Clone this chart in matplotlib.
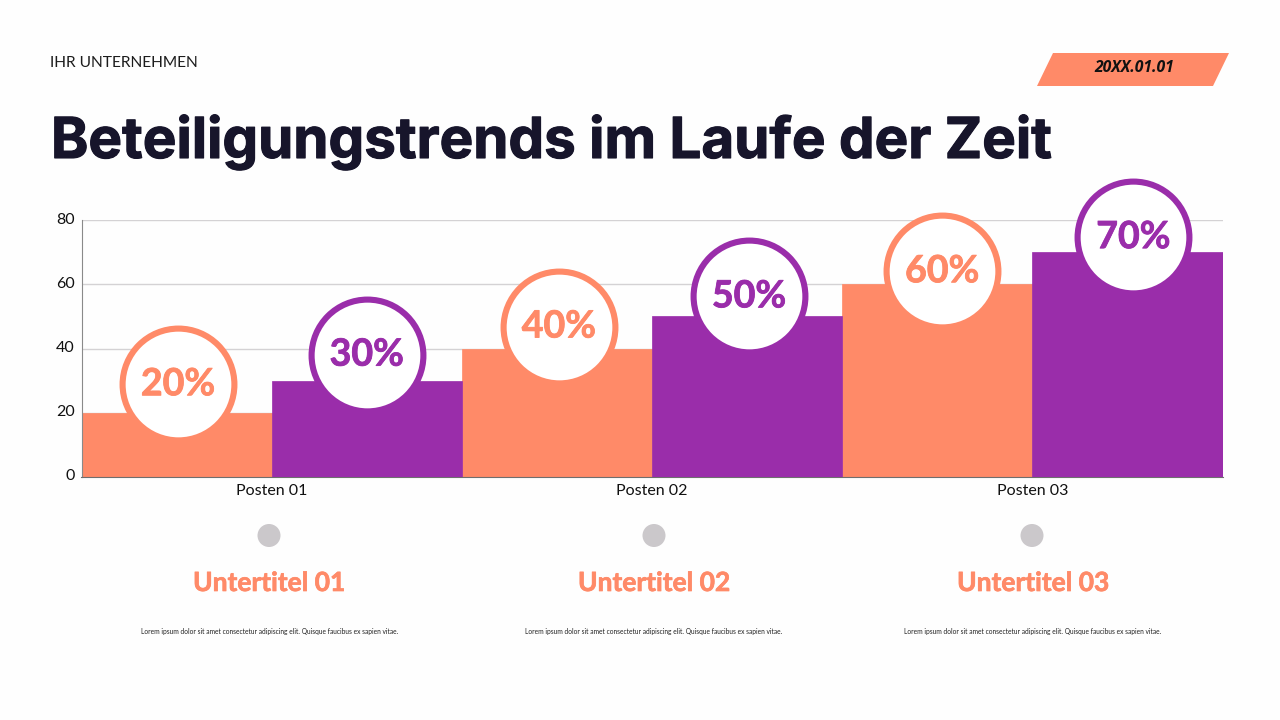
import matplotlib

matplotlib.use("Agg")
import matplotlib.pyplot as plt
import matplotlib.patheffects as pe
from matplotlib.patches import Polygon, Circle
from matplotlib.transforms import offset_copy, ScaledTranslation
import numpy as np

categories = ["Posten 01", "Posten 02", "Posten 03"]
series_a = [20, 40, 60]
series_b = [30, 50, 70]
y_ticks = [0, 20, 40, 60, 80]
subtitles = ["Untertitel 01", "Untertitel 02", "Untertitel 03"]
lorem = "Lorem ipsum dolor sit amet consectetur adipiscing elit. Quisque faucibus ex sapien vitae."

ORANGE = "#ff8a68"
PURPLE = "#9a2daa"
DARK = "#17152b"
W, H = 1280, 720

fig = plt.figure(figsize=(W / 100, H / 100), dpi=100, facecolor="#fefefe")

# full-figure overlay in pixel coordinates for the slide furniture
bg = fig.add_axes([0, 0, 1, 1])
bg.set_xlim(0, W)
bg.set_ylim(H, 0)
bg.axis("off")


def heavier(text, amount, color):
    text.set_path_effects([pe.withStroke(linewidth=amount, foreground=color)])


ax = fig.add_axes([81.5 / W, 1 - 477 / H, (1222.5 - 81.5) / W, (477 - 220) / H])
ax.set_facecolor("none")
x = np.arange(len(categories))
width = 0.5
ax.bar(x - width / 2, series_a, width, color=ORANGE, edgecolor=ORANGE, linewidth=0.5, zorder=2)
ax.bar(x + width / 2, series_b, width, color=PURPLE, edgecolor=PURPLE, linewidth=0.5, zorder=3)
ax.set_xlim(-0.5, 2.5)
ax.set_ylim(0, 80)
ax.set_yticks(y_ticks)
ax.set_xticks(x, categories)
ax.grid(axis="y", color="#d4d2d4", linewidth=1, zorder=0)
ax.tick_params(length=0, labelsize=11.5, labelcolor="#111111", pad=5)
for lab in ax.get_xticklabels() + ax.get_yticklabels():
    lab.set_family("Lato")
nudge = ScaledTranslation(0, 2 / 100, fig.dpi_scale_trans)
for lab in ax.get_yticklabels():
    lab.set_transform(lab.get_transform() + nudge)
for s in ["top", "right"]:
    ax.spines[s].set_visible(False)
ax.spines["left"].set_color("#8a8a8a")
ax.spines["bottom"].set_color("#6e6e6e")

# percent badges, shifted off the bar tops by a pixel amount
positions = [x[0] - width / 2, x[0] + width / 2, x[1] - width / 2,
             x[1] + width / 2, x[2] - width / 2, x[2] + width / 2]
values = [series_a[0], series_b[0], series_a[1], series_b[1], series_a[2], series_b[2]]
shift_x = [1.5, 0, 2, 2, 5, 6]
shift_y = [28.5, 26, 22, 20, 13, 15]
for i, (px, val) in enumerate(zip(positions, values)):
    col = ORANGE if i % 2 == 0 else PURPLE
    tr = offset_copy(ax.transData, fig=fig, x=shift_x[i], y=shift_y[i], units="dots")
    ax.plot([px], [val], marker="o", ms=80.5, mfc="white", mec=col, mew=4.4,
            transform=tr, clip_on=False, zorder=5)
    tr_text = offset_copy(ax.transData, fig=fig, x=shift_x[i], y=shift_y[i] + 3, units="dots")
    t = ax.text(px, val, f"{val}%", transform=tr_text, ha="center", va="center_baseline",
                color=col, fontsize=27, fontweight="bold", family="Lato", clip_on=False, zorder=6)
    heavier(t, 0.6, col)

# header
bg.text(50, 63, "IHR UNTERNEHMEN", fontsize=11.2, family="Lato", color="#1c1c1c", va="center")
title = bg.text(51, 142, "Beteiligungstrends im Laufe der Zeit", fontsize=40.7, fontweight="bold",
                family="Inter", color=DARK, va="center")
heavier(title, 0.8, DARK)
bg.add_patch(Polygon([(1053, 53), (1229, 53), (1213, 86), (1037, 86)], closed=True,
                     facecolor=ORANGE, edgecolor="none"))
bg.text(1134, 68.5, "20XX.01.01", fontsize=11.3, fontweight="bold", style="italic",
        family="Open Sans", color="#111111", ha="center", va="center")

# lower captions
dot_x = [269, 654, 1032]
sub_x = [269, 654, 1033]
text_x = [270, 654, 1033]
for i, sub in enumerate(subtitles):
    bg.add_patch(Circle((dot_x[i], 535.5), 11.5, facecolor="#cbc8cb", edgecolor="none"))
    st = bg.text(sub_x[i], 583, sub, fontsize=19, fontweight="bold", family="Lato",
                 color=ORANGE, ha="center", va="center")
    heavier(st, 0.5, ORANGE)
    bg.text(text_x[i], 631.5, lorem, fontsize=4.8, family="Lato", color="#222222",
            ha="center", va="center")

fig.savefig("out.png", dpi=100, facecolor=fig.get_facecolor())
